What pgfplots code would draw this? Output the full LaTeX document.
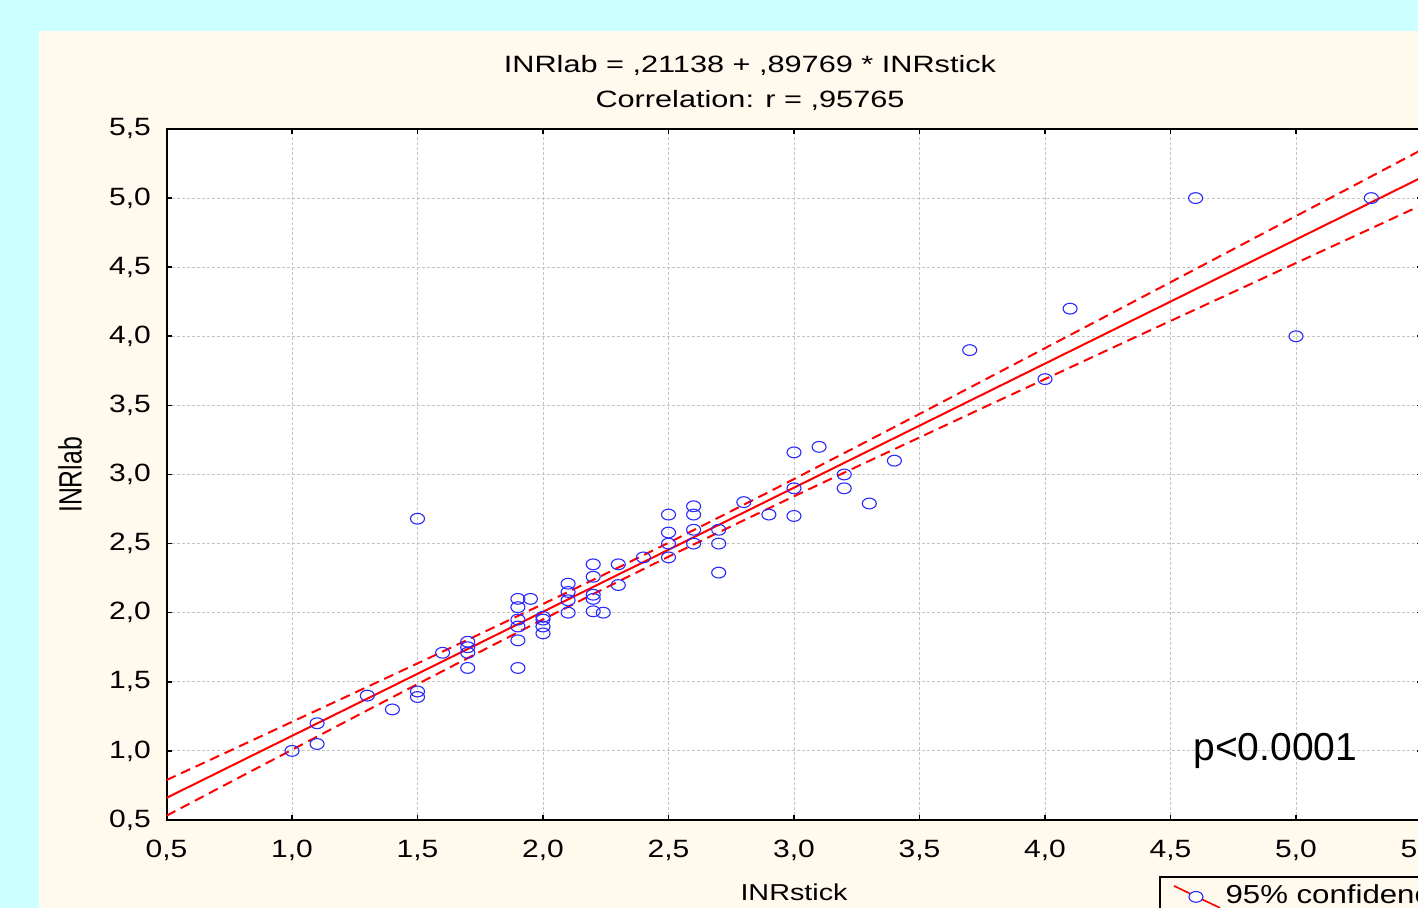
\documentclass[border=0pt]{standalone}
\usepackage{pgfplots}
\pgfplotsset{compat=1.18}
\usepackage{fontspec}
\setmainfont{Liberation Sans}
\definecolor{cyanbg}{HTML}{CCFFFF}
\definecolor{cream}{HTML}{FFF9EE}
\definecolor{markblue}{HTML}{2A2AFF}
\definecolor{gridgray}{HTML}{C4C4C4}
\begin{document}
\begin{tikzpicture}
\path[use as bounding box] (0pt,0pt) rectangle (709pt,454pt);
\clip (0pt,0pt) rectangle (709pt,454pt);
\fill[cyanbg] (0pt,0pt) rectangle (709pt,454pt);
\fill[cream] (19.5pt,0pt) rectangle (709pt,438.5pt);
\begin{axis}[
  at={(83.25pt,44pt)}, anchor=south west,
  scale only axis, width=627.5pt, height=345.5pt,
  xmin=0.5, xmax=5.5, ymin=0.5, ymax=5.5,
  xtick={0.5,1.0,1.5,2.0,2.5,3.0,3.5,4.0,4.5,5.0,5.5},
  ytick={0.5,1.0,1.5,2.0,2.5,3.0,3.5,4.0,4.5,5.0,5.5},
  /pgf/number format/.cd, use comma, fixed, fixed zerofill, precision=1, assume math mode=true,
  /pgfplots/.cd,
  tick label style={font=\fontsize{12.5}{14}\selectfont, xscale=1.2},
  xticklabel style={yshift=-6.5pt},
  yticklabel style={xshift=-3pt},
  grid=major,
  major grid style={gridgray, line width=0.5pt, dash pattern=on 1.5pt off 1pt},
  axis line style={line width=1pt},
  tick style={line width=0.8pt, black},
  major tick length=2.5pt,
  tick align=inside, tick pos=both,
  axis background/.style={fill=white},
  legend style={at={(0.7908,-0.081)}, anchor=north west, draw=black, line width=1pt, fill=cream, font=\fontsize{13}{15}\selectfont, inner xsep=3pt, inner ysep=2pt, nodes={xscale=1.2}},
  legend cell align=left,
]
\addplot[only marks, mark=o, mark size=2.7pt, mark options={xscale=1.3, markblue, line width=0.55pt}, forget plot] coordinates {
(1.0,1.0) (1.1,1.2) (1.1,1.05) (1.3,1.4) (1.4,1.3) (1.5,2.68) (1.5,1.43) (1.5,1.39)
(1.6,1.71) (1.7,1.79) (1.7,1.75) (1.7,1.71) (1.7,1.6)
(1.9,2.1) (1.9,2.04) (1.9,1.95) (1.9,1.9) (1.9,1.8) (1.9,1.6) (1.95,2.1)
(2.0,1.97) (2.0,1.95) (2.0,1.9) (2.0,1.85)
(2.1,2.21) (2.1,2.15) (2.1,2.09) (2.1,2.0)
(2.2,2.35) (2.2,2.26) (2.2,2.13) (2.2,2.1) (2.2,2.01) (2.24,2.0)
(2.3,2.35) (2.3,2.2) (2.4,2.4)
(2.5,2.71) (2.5,2.58) (2.5,2.5) (2.5,2.4)
(2.6,2.77) (2.6,2.71) (2.6,2.6) (2.6,2.5)
(2.7,2.6) (2.7,2.5) (2.7,2.29) (2.8,2.8) (2.9,2.71)
(3.0,3.16) (3.0,2.9) (3.0,2.7) (3.1,3.2) (3.2,3.0) (3.2,2.9) (3.3,2.79) (3.4,3.1)
(3.7,3.9) (4.0,3.69) (4.1,4.2) (4.6,5.0) (5.0,4.0) (5.3,5.0)
};
\addplot[red, line width=1pt, forget plot] coordinates {(0.5,0.660) (5.5,5.149)};
\addplot[red, line width=1pt, dash pattern=on 5pt off 3pt, smooth, forget plot] coordinates {
(0.5,0.789) (0.75,0.999) (1.0,1.210) (1.25,1.421) (1.5,1.633) (1.75,1.847) (2.0,2.063)
(2.25,2.282) (2.5,2.506) (2.75,2.735) (3.0,2.967) (3.25,3.202) (3.5,3.438) (3.75,3.676)
(4.0,3.914) (4.25,4.152) (4.5,4.391) (4.75,4.630) (5.0,4.870) (5.25,5.109) (5.5,5.349)
};
\addplot[red, line width=1pt, dash pattern=on 5pt off 3pt, smooth, forget plot] coordinates {
(0.5,0.531) (0.75,0.770) (1.0,1.008) (1.25,1.246) (1.5,1.483) (1.75,1.718) (2.0,1.951)
(2.25,2.180) (2.5,2.405) (2.75,2.625) (3.0,2.842) (3.25,3.056) (3.5,3.268) (3.75,3.480)
(4.0,3.690) (4.25,3.901) (4.5,4.111) (4.75,4.320) (5.0,4.530) (5.25,4.739) (5.5,4.949)
};
\addlegendimage{legend image code/.code={
  \path[draw=none, fill=none] (0pt,0pt) -- (3pt,0pt);
  \draw[red, line width=0.8pt] (4pt,5pt) -- (27pt,-6pt);
  \draw[markblue, line width=0.55pt, fill=white] (15pt,-0.5pt) ellipse (3.5pt and 2.7pt);}}
\addlegendentry{95\% confidence}
\node[anchor=west, inner sep=0pt, font=\fontsize{19.5}{21}\selectfont] at (axis cs:4.59,1.0) {p<0.0001};
\end{axis}
\node[font=\fontsize{11.8}{13}\selectfont, xscale=1.3] at (375pt,421.5pt) {INRlab = ,21138 + ,89769 * INRstick};
\node[font=\fontsize{11.8}{13}\selectfont, xscale=1.3] at (375pt,404pt) {Correlation: r = ,95765};
\node[font=\fontsize{11.5}{13}\selectfont, xscale=1.25] at (397pt,8pt) {INRstick};
\node[font=\fontsize{12.4}{14}\selectfont, rotate=90, yscale=1.3] at (35pt,216.5pt) {INRlab};
\end{tikzpicture}
\end{document}
